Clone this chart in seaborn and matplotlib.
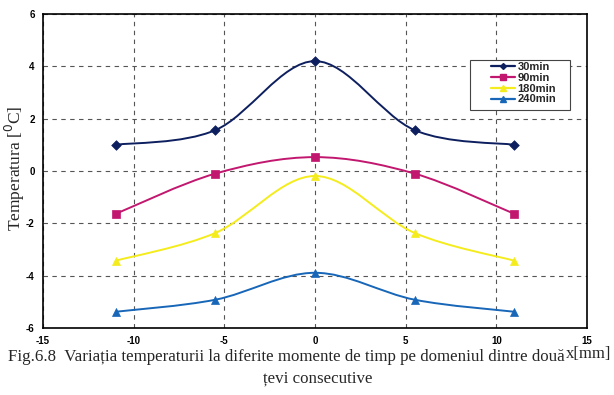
import numpy as np
import pandas as pd
import matplotlib
matplotlib.use("Agg")
import matplotlib.pyplot as plt
from matplotlib.path import Path
from matplotlib.patches import PathPatch, Rectangle
import seaborn as sns

# Temperature profiles between two consecutive pipes
x_mm = [-11.0, -5.5, 0.0, 5.5, 11.0]
t_30min = [1.0, 1.56, 4.2, 1.56, 1.0]
t_90min = [-1.64, -0.1, 0.53, -0.1, -1.64]
t_180min = [-3.43, -2.37, -0.19, -2.37, -3.43]
t_240min = [-5.38, -4.92, -3.89, -4.92, -5.38]
series_labels = ["30min", "90min", "180min", "240min"]

colors = ["#0d1f5e", "#c2176f", "#f4ec1c", "#1766b8"]
markers = ["D", "s", "^", "^"]
msizes = [4, 5, 5, 5]

rows = []
for lab, vals in zip(series_labels, [t_30min, t_90min, t_180min, t_240min]):
    for xv, yv in zip(x_mm, vals):
        rows.append({"x": xv, "T": yv, "serie": lab})
df = pd.DataFrame(rows)

sns.set_style("white")
plt.rcParams["axes.unicode_minus"] = False
fig = plt.figure(figsize=(6.14, 3.95), dpi=100)
ax = fig.add_axes([43 / 614, 67 / 395, 544 / 614, 314 / 395])


def smooth_path(xs, ys, tension=1 / 6):
    """Cubic Bezier path through the points (Catmull-Rom style smoothing)."""
    px = np.asarray(xs, float)
    py = np.asarray(ys, float)
    n = len(px)
    verts = [(px[0], py[0])]
    codes = [Path.MOVETO]
    for i in range(n - 1):
        i0 = max(i - 1, 0)
        i3 = min(i + 2, n - 1)
        c1 = (px[i] + (px[i + 1] - px[i0]) * tension,
              py[i] + (py[i + 1] - py[i0]) * tension)
        c2 = (px[i + 1] - (px[i3] - px[i]) * tension,
              py[i + 1] - (py[i3] - py[i]) * tension)
        verts += [c1, c2, (px[i + 1], py[i + 1])]
        codes += [Path.CURVE4] * 3
    return Path(verts, codes)


for lab, col in zip(series_labels, colors):
    sub = df[df["serie"] == lab]
    ax.add_patch(PathPatch(smooth_path(sub["x"], sub["T"]), facecolor="none",
                           edgecolor=col, lw=1.4, zorder=3))

for lab, col, mk, ms in zip(series_labels, colors, markers, msizes):
    sub = df[df["serie"] == lab]
    sns.scatterplot(data=sub, x="x", y="T", ax=ax, color=col, marker=mk,
                    s=ms ** 2 + 8, edgecolor=col, linewidth=0.5, zorder=4,
                    legend=False)

ax.set_xlim(-15, 15)
ax.set_ylim(-6, 6)
ax.set_xticks(range(-15, 16, 5))
ax.set_yticks(range(-6, 7, 2))
ax.grid(True, color="#555555", linestyle=(0, (4, 4)), linewidth=0.8)
for s in ax.spines.values():
    s.set_color("black")
    s.set_linewidth(1.2)
ax.tick_params(axis="both", labelsize=7, length=3, width=0.8,
               colors="black")
ax.tick_params(axis="x", direction="in", pad=6)
ax.tick_params(axis="y", direction="out", pad=3)
for t in ax.get_xticklabels() + ax.get_yticklabels():
    t.set_fontweight("bold")
    t.set_family("Liberation Sans")
ax.set_xlabel("")
ax.set_ylabel("")
fig.text(15 / 614, 1 - 168 / 395, "Temperatura [$^0$C]",
         family="Liberation Serif", fontsize=12.5, rotation=90,
         ha="center", va="center")

# legend frame, wider than its entries
ax.add_patch(Rectangle((0.785, 0.694), 0.184, 0.16, transform=ax.transAxes,
                       facecolor="white", edgecolor="#444444", lw=0.8,
                       zorder=5))
handles = [plt.Line2D([], [], color=c, marker=m, markersize=ms - 1, lw=1.6)
           for c, m, ms in zip(colors, markers, msizes)]
leg = ax.legend(handles, series_labels, loc="upper left",
                bbox_to_anchor=(0.823, 0.848), frameon=False,
                handlelength=2.2, labelspacing=0.08, borderpad=0,
                handletextpad=0.2, borderaxespad=0,
                prop={"family": "Liberation Sans", "weight": "bold",
                      "size": 8})
leg.set_zorder(6)

fig.text(8 / 614, 1 - 357 / 395,
         "Fig.6.8  Variația temperaturii la diferite momente de timp pe domeniul dintre două",
         family="Liberation Serif", fontsize=12.2, va="center", ha="left")
fig.text(566 / 614, 1 - 354 / 395, "x[mm]", family="Liberation Serif",
         fontsize=12, va="center", ha="left")
fig.text(318 / 614, 1 - 378 / 395, "țevi consecutive",
         family="Liberation Serif", fontsize=12.2, va="center", ha="center")

fig.savefig("out.png", dpi=100, facecolor="white")
